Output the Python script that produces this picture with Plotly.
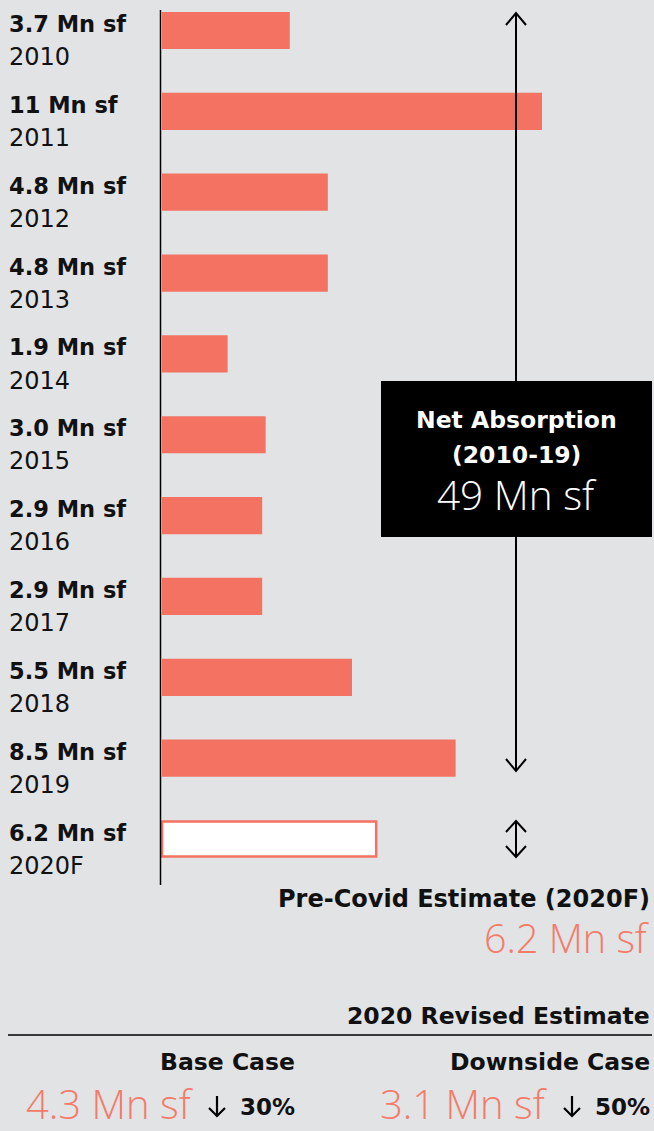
import plotly.graph_objects as go

# ---------------- data ----------------
years = ["2010", "2011", "2012", "2013", "2014", "2015", "2016", "2017", "2018", "2019", "2020F"]
absorption = [3.7, 11.0, 4.8, 4.8, 1.9, 3.0, 2.9, 2.9, 5.5, 8.5, 6.2]
value_labels = ["3.7 Mn sf", "11 Mn sf", "4.8 Mn sf", "4.8 Mn sf", "1.9 Mn sf", "3.0 Mn sf",
                "2.9 Mn sf", "2.9 Mn sf", "5.5 Mn sf", "8.5 Mn sf", "6.2 Mn sf"]
total_title = ["Net Absorption", "(2010-19)"]
total_label = "49 Mn sf"
pre_covid_title = "Pre-Covid Estimate (2020F)"
pre_covid_label = "6.2 Mn sf"
revised_title = "2020 Revised Estimate"
case_names = ["Base Case", "Downside Case"]
case_values = ["4.3 Mn sf", "3.1 Mn sf"]
case_changes = ["30%", "50%"]

# ---------------- style ----------------
W, H = 654, 1131
BG = "#e2e3e5"
SALMON = "#f37262"
SALMON_TXT = "#f47b69"
FONT = "DejaVu Sans"
LIGHT = "Open Sans"

def px(x):
    return x / W

def py(y):
    return 1 - y / H

PX_PER_UNIT = 34.545
X0 = 162
ROW0 = 30.5
ROW_STEP = 80.85

fig = go.Figure()

hist_idx = list(range(10))
fig.add_trace(go.Bar(
    x=absorption[:10], y=hist_idx, orientation="h", width=0.46,
    marker=dict(color=SALMON, line=dict(width=0)), hoverinfo="skip",
))
fig.add_trace(go.Bar(
    x=[absorption[10]], y=[10], orientation="h", width=0.43,
    marker=dict(color="white", line=dict(color=SALMON, width=2.5)), hoverinfo="skip",
))

annotations = []
for i, (yr, lab) in enumerate(zip(years, value_labels)):
    annotations.append(dict(x=px(7), xref="paper", y=i - 0.08, yref="y", text=lab,
                            showarrow=False, xanchor="left", yanchor="middle",
                            font=dict(family=FONT, size=22.5, color="#111", weight=700)))
    annotations.append(dict(x=px(7), xref="paper", y=i + 0.33, yref="y", text=yr,
                            showarrow=False, xanchor="left", yanchor="middle",
                            font=dict(family=FONT, size=24, color="#111", weight=400)))

shapes = []
# axis line
shapes.append(dict(type="line", xref="paper", yref="paper", x0=px(160.5), x1=px(160.5),
                   y0=py(10), y1=py(885), line=dict(color="black", width=1.5)))

def chevron(xc, ytip, yarm, half=10):
    return (f"M {px(xc-half)},{py(yarm)} L {px(xc)},{py(ytip)} L {px(xc+half)},{py(yarm)}")

def vline(x, y0, y1, w=2):
    shapes.append(dict(type="line", xref="paper", yref="paper", x0=px(x), x1=px(x),
                       y0=py(y0), y1=py(y1), line=dict(color="black", width=w)))

# big arrow
AX = 516
vline(AX, 13, 771)
for tip, arm in [(13, 25), (771, 759), (821, 832), (857, 846)]:
    shapes.append(dict(type="path", xref="paper", yref="paper", path=chevron(AX, tip, arm),
                       line=dict(color="black", width=2)))
vline(AX, 821, 857)

# down arrows next to the percentage changes
for ax in (217, 572):
    vline(ax, 1096, 1116, 2.2)
    shapes.append(dict(type="path", xref="paper", yref="paper", path=chevron(ax, 1116, 1108, 8),
                       line=dict(color="black", width=2.2)))

# black box
shapes.append(dict(type="rect", xref="paper", yref="paper", x0=px(381), x1=px(652),
                   y0=py(381), y1=py(537), fillcolor="black", line=dict(width=0)))
# separator line
shapes.append(dict(type="line", xref="paper", yref="paper", x0=px(8), x1=px(652),
                   y0=py(1035), y1=py(1035), line=dict(color="black", width=1.5)))

def txt(x, y, text, size, color="#111", weight=400, anchor="center", family=FONT):
    annotations.append(dict(x=px(x), y=py(y), xref="paper", yref="paper", text=text,
                            showarrow=False, xanchor=anchor, yanchor="middle",
                            font=dict(family=family, size=size, color=color, weight=weight)))

TS = 23.5
txt(516, 420, total_title[0], TS, "white", 700)
txt(516, 455, total_title[1], TS, "white", 700)
txt(517, 494, total_label, 40.5, "white", 300, family=LIGHT)

txt(652, 899, pre_covid_title, 24, "#111", 700, "right")
txt(652, 938, pre_covid_label, 39.5, SALMON_TXT, 300, "right", family=LIGHT)

txt(652, 1016, revised_title, TS, "#111", 700, "right")
txt(297, 1062, case_names[0], TS, "#111", 700, "right")
txt(652, 1062, case_names[1], TS, "#111", 700, "right")

txt(196, 1103, case_values[0], 40, SALMON_TXT, 300, "right", family=LIGHT)
txt(297, 1107, case_changes[0], 23, "#111", 700, "right")
txt(550, 1103, case_values[1], 40, SALMON_TXT, 300, "right", family=LIGHT)
txt(652, 1107, case_changes[1], 23, "#111", 700, "right")

fig.update_layout(
    width=W, height=H, margin=dict(l=0, r=0, t=0, b=0),
    paper_bgcolor=BG, plot_bgcolor=BG, showlegend=False, barmode="overlay",
    xaxis=dict(range=[-X0 / PX_PER_UNIT, (W - X0) / PX_PER_UNIT], domain=[0, 1],
               visible=False, fixedrange=True),
    yaxis=dict(range=[(H - ROW0) / ROW_STEP, -ROW0 / ROW_STEP], domain=[0, 1],
               visible=False, fixedrange=True),
    shapes=shapes, annotations=annotations,
)

fig.write_html("out.html", config={"displayModeBar": False},
               post_script="document.body.style.margin='0px';document.body.style.background='" + BG + "';")
